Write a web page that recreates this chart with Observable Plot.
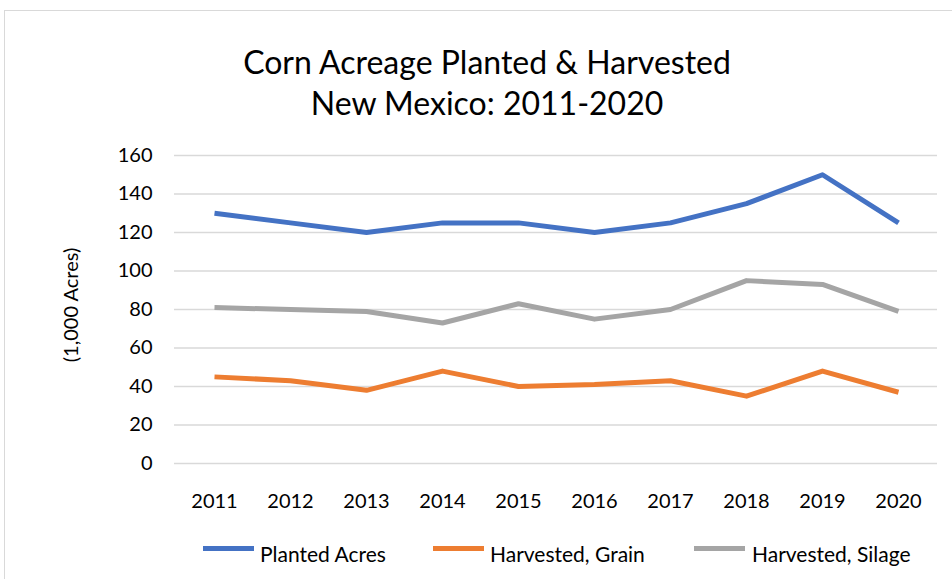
<!DOCTYPE html>
<html>
<head>
<meta charset="utf-8">
<script src="https://cdn.jsdelivr.net/npm/d3@7"></script>
<script src="https://cdn.jsdelivr.net/npm/@observablehq/plot@0.6"></script>
<style>
  html, body { margin: 0; padding: 0; background: #fff; width: 952px; height: 579px; overflow: hidden; font-family: Lato, sans-serif; color: #000; }
  #frame { position: absolute; left: 4px; top: 10px; width: 1000px; height: 620px; border: 1.5px solid #d9d9d9; box-sizing: border-box; }
  #title { position: absolute; left: 0; width: 974px; top: 41px; text-align: center; font-size: 32px; line-height: 41px; }
  #chart { position: absolute; left: 0; top: 140px; }
  #ylabel { position: absolute; left: 70px; top: 305px; transform: translate(-50%, -50%) rotate(-90deg); font-size: 20px; white-space: nowrap; }
  .leg-sw { position: absolute; height: 5px; top: 546px; width: 51px; }
  .leg-tx { position: absolute; top: 542px; font-size: 21px; line-height: 24px; white-space: nowrap; }
</style>
</head>
<body>
<div id="frame"></div>
<div id="title">Corn Acreage Planted &amp; Harvested<br>New Mexico: 2011-2020</div>
<div id="ylabel">(1,000 Acres)</div>
<div id="chart"></div>
<div id="legend"></div>
<script>
const years = ["2011","2012","2013","2014","2015","2016","2017","2018","2019","2020"];
const seriesNames = ["Planted Acres", "Harvested, Grain", "Harvested, Silage"];
const seriesColors = ["#4472C4", "#ED7D31", "#A5A5A5"];
const planted = [130,125,120,125,125,120,125,135,150,125];
const grain   = [45,43,38,48,40,41,43,35,48,37];
const silage  = [81,80,79,73,83,75,80,95,93,79];
const yTicks = [0,20,40,60,80,100,120,140,160];

const seriesValues = [planted, grain, silage];
const rows = seriesNames.flatMap((name, i) =>
  years.map((yr, j) => ({ series: name, year: yr, value: seriesValues[i][j] })));

const chart = Plot.plot({
  width: 952,
  height: 380,
  marginLeft: 174,
  marginRight: 15,
  marginTop: 15,
  marginBottom: 57,
  style: { fontFamily: "Lato, sans-serif", color: "#000", background: "transparent", overflow: "visible" },
  x: { type: "point", domain: years, padding: 0.5, label: null },
  y: { domain: [0, 160], ticks: yTicks, label: null },
  color: { domain: seriesNames, range: seriesColors },
  marks: [
    Plot.gridY(yTicks, { stroke: "#d9d9d9", strokeOpacity: 1, strokeWidth: 1.5 }),
    Plot.axisY(yTicks, { tickSize: 0, tickPadding: 22, fontSize: 20, label: null }),
    Plot.axisX({ tickSize: 0, tickPadding: 30, fontSize: 20, label: null }),
    Plot.line(rows, { x: "year", y: "value", z: "series", stroke: "series", strokeWidth: 5, strokeLinejoin: "round", strokeLinecap: "butt" })
  ]
});
document.getElementById("chart").appendChild(chart);

const legendLayout = [{ sw: 203, tx: 260 }, { sw: 433, tx: 490 }, { sw: 694, tx: 752 }];
const legend = document.getElementById("legend");
seriesNames.forEach((name, i) => {
  const sw = document.createElement("div");
  sw.className = "leg-sw";
  sw.style.left = legendLayout[i].sw + "px";
  sw.style.background = seriesColors[i];
  legend.appendChild(sw);
  const tx = document.createElement("div");
  tx.className = "leg-tx";
  tx.style.left = legendLayout[i].tx + "px";
  tx.textContent = name;
  legend.appendChild(tx);
});
</script>
</body>
</html>
